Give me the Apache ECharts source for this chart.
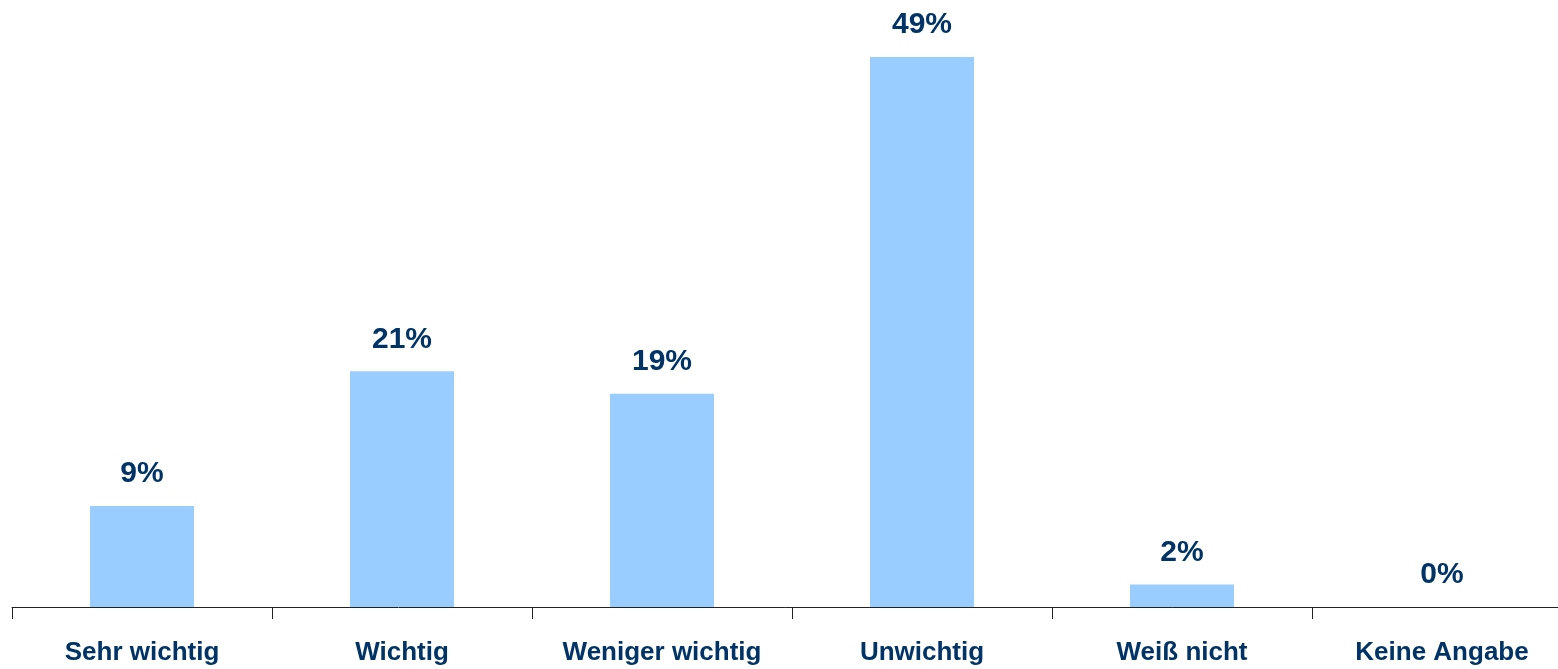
<!DOCTYPE html>
<html>
<head>
<meta charset="utf-8">
<script src="https://cdn.jsdelivr.net/npm/echarts@6/dist/echarts.min.js"></script>
<style>html,body{margin:0;padding:0;background:#fff;overflow:hidden;}#c{width:1558px;height:669px;}</style>
</head>
<body>
<div id="c"></div>
<script>
const categories = ['Sehr wichtig', 'Wichtig', 'Weniger wichtig', 'Unwichtig', 'Weiß nicht', 'Keine Angabe'];
const values = [9, 21, 19, 49, 2, 0];

const chart = echarts.init(document.getElementById('c'));
chart.setOption({
  animation: false,
  grid: { left: 12, width: 1560, top: 1, bottom: 62, containLabel: false, outerBoundsMode: 'none' },
  xAxis: {
    type: 'category',
    data: categories,
    boundaryGap: true,
    axisLine: { show: true, lineStyle: { color: '#222', width: 1 } },
    axisTick: { show: true, length: 12, alignWithLabel: false, lineStyle: { color: '#222' } },
    axisLabel: {
      interval: 0,
      margin: 33,
      color: '#003366',
      fontFamily: 'Liberation Sans, Arial, sans-serif',
      fontWeight: 'bold',
      fontSize: 26
    }
  },
  yAxis: {
    type: 'value',
    min: 0,
    max: 54,
    show: false,
    splitLine: { show: false }
  },
  series: [{
    type: 'bar',
    data: values,
    barWidth: 104,
    itemStyle: { color: '#99CCFF' },
    label: {
      show: true,
      position: 'top',
      distance: 17,
      formatter: '{c}%',
      color: '#003366',
      fontFamily: 'Liberation Sans, Arial, sans-serif',
      fontWeight: 'bold',
      fontSize: 30
    }
  }]
});
</script>
</body>
</html>
